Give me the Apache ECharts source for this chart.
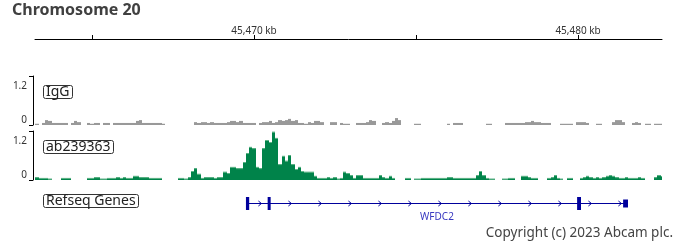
<!DOCTYPE html>
<html>
<head>
<meta charset="utf-8">
<script src="https://cdn.jsdelivr.net/npm/echarts@6/dist/echarts.min.js"></script>
<style>
html,body{margin:0;padding:0;background:#fff;}
#chart{width:696px;height:246px;}
</style>
</head>
<body>
<div id="chart"></div>
<script>
// ---- data ----
const chromosomeTitle = 'Chromosome 20';
const viewStartKb = 45463.24;
const viewEndKb = 45482.59;
const rulerTicks = [45465, 45470, 45475, 45480];
const rulerLabels = [45470, 45480];
const trackNames = ['IgG', 'ab239363', 'Refseq Genes'];
const binStart = 45463.25;
const binSize = 0.1;
const yTicks = [0, 1.2];

const igg = [
  0.03,null,0.05,0.12,0.1,0.05,0.05,0.05,0.05,0.05,
  null,0.05,0.1,0.07,null,null,0.05,0.03,0.05,0.05,
  null,0.05,0.05,null,0.05,0.05,0.05,0.05,0.05,0.05,
  0.05,0.1,0.12,0.05,0.05,0.05,0.05,0.05,0.05,0.03,
  null,null,null,null,null,null,null,null,null,0.07,
  0.05,0.07,0.07,0.05,0.07,0.05,0.05,0.05,0.05,0.07,
  0.1,0.1,0.07,0.1,0.05,0.05,0.05,0.05,null,0.05,
  0.07,0.07,0.1,0.05,0.07,0.12,0.1,0.12,0.15,0.1,
  0.12,0.05,0.05,0.03,0.07,0.05,0.1,0.1,0.07,null,
  null,0.07,0.07,null,0.05,0.03,0.03,null,null,0.05,
  0.05,0.05,0.07,0.12,0.1,null,null,0.05,0.07,0.05,
  0.1,0.17,0.12,null,null,null,null,0.03,0.03,null,
  null,null,null,null,null,null,null,0.03,null,0.05,
  0.05,0.05,null,null,null,null,null,null,null,0.03,
  0.03,null,null,null,null,0.05,0.05,0.05,0.05,0.05,
  0.05,0.07,0.07,0.1,0.07,0.07,0.05,0.05,0.05,null,
  null,null,0.03,0.03,0.03,0.03,null,0.07,0.07,0.07,
  0.05,null,null,0.03,0.03,null,null,null,0.07,0.12,
  0.12,0.07,null,null,0.05,0.07,0.05,null,0.03,0.03,
  null,0.03,0.03,0.03
];

const ab239363 = [
  0.07,0.05,0.05,0.05,0.03,null,null,null,0.05,0.05,
  0.05,null,null,null,null,null,0.05,0.05,0.07,0.07,
  0.03,0.03,0.05,0.05,0.05,0.07,0.05,0.07,0.05,0.05,
  0.1,0.1,0.07,0.07,0.07,0.05,0.05,0.05,0.05,null,
  null,null,null,null,0.05,0.05,0.03,0.07,0.22,0.29,
  0.15,0.05,0.07,0.07,0.07,0.05,0.07,0.07,0.2,0.17,
  0.32,0.32,0.29,0.29,0.44,0.66,0.81,0.78,0.32,0.29,
  0.78,0.98,0.93,1.18,1.03,0.39,0.59,0.47,0.61,0.39,
  0.27,0.32,0.22,0.2,0.2,0.2,0.1,0.05,0.05,0.05,
  0.07,0.05,0.07,0.03,0.05,0.2,0.17,0.12,0.05,0.12,
  0.12,0.05,0.05,0.05,0.05,0.05,0.12,0.07,0.05,0.1,
  0.05,null,null,null,0.05,0.05,null,0.03,0.03,0.05,
  0.05,0.05,0.05,0.05,0.05,0.05,0.05,0.07,0.07,0.05,
  0.05,0.05,0.05,0.05,0.05,0.05,0.12,0.22,0.12,0.05,
  0.03,0.03,null,null,0.03,0.03,0.05,0.05,null,null,
  0.1,0.1,0.07,0.05,0.05,null,null,null,0.05,0.07,
  0.12,0.05,0.03,null,0.05,0.05,null,null,0.05,0.07,
  0.1,0.07,0.05,0.07,0.05,0.07,0.1,0.12,0.1,0.07,
  0.05,0.05,0.07,0.05,0.05,0.05,0.07,0.05,null,null,
  null,0.07,0.12,0.1
];

const geneName = 'WFDC2';
const geneStartKb = 45469.78;
const geneEndKb = 45481.51;
// [startKb, endKb, isTall]
const geneExons = [
  [45469.75, 45469.85, 1],
  [45470.42, 45470.51, 1],
  [45479.97, 45480.09, 1],
  [45481.39, 45481.54, 0]
];
const copyrightText = 'Copyright (c) 2023 Abcam plc.';

// ---- chart ----
const FONT = 'Noto Sans';
const chart = echarts.init(document.getElementById('chart'));

function toData(arr) {
  const out = [];
  arr.forEach((v, i) => { if (v !== null) out.push([i, v]); });
  return out;
}

function binRenderer(fill, topColor) {
  return function (params, api) {
    const i = api.value(0), v = api.value(1);
    const p0 = api.coord([binStart + i * binSize, v]);
    const p1 = api.coord([binStart + (i + 1) * binSize, 0]);
    const x0 = Math.round(p0[0]), x1 = Math.round(p1[0]);
    const yb = Math.round(p1[1]);
    let yt = p0[1];
    if (yb - yt < 1) yt = yb - 1;
    const children = [{
      type: 'rect',
      shape: { x: x0, y: yt, width: x1 - x0, height: yb - yt },
      style: { fill: fill }
    }];
    if (topColor) {
      children.push({
        type: 'rect',
        shape: { x: x0, y: yt, width: x1 - x0, height: 1 },
        style: { fill: topColor }
      });
    }
    return { type: 'group', children: children };
  };
}

function geneRenderer(params, api) {
  const color = '#00009c';
  const a = api.coord([geneStartKb, 0.5]);
  const b = api.coord([geneEndKb, 0.5]);
  const y = Math.round(a[1]) + 0.5;
  const children = [{
    type: 'line',
    shape: { x1: a[0], y1: y, x2: b[0], y2: y },
    style: { stroke: color, lineWidth: 1 }
  }];
  for (let x = a[0] + 13; x < b[0] - 3; x += 30) {
    children.push({
      type: 'polyline',
      shape: { points: [[x - 1.5, y - 2.5], [x + 1.5, y], [x - 1.5, y + 2.5]] },
      style: { stroke: color, lineWidth: 1, fill: null }
    });
  }
  geneExons.forEach(e => {
    const s = api.coord([e[0], 0.5]);
    const t = api.coord([e[1], 0.5]);
    const h = e[2] ? 13 : 8;
    children.push({
      type: 'rect',
      shape: { x: s[0], y: y - h / 2, width: Math.max(3, t[0] - s[0]), height: h },
      style: { fill: color }
    });
  });
  children.push({
    type: 'text',
    style: {
      x: (a[0] + b[0]) / 2, y: y + 14, text: geneName,
      fill: '#3838c0', font: '10px "' + FONT + '"',
      align: 'center', verticalAlign: 'middle'
    }
  });
  return { type: 'group', children: children };
}

const hiddenX = (gi) => ({
  type: 'value', gridIndex: gi, min: viewStartKb, max: viewEndKb, show: false
});
const trackY = (gi) => ({
  type: 'value', gridIndex: gi, min: 0, max: 1.2, offset: 2,
  axisLine: { show: true, lineStyle: { color: '#000', width: 1 } },
  axisTick: { show: true, length: 4, customValues: yTicks, lineStyle: { color: '#000' } },
  axisLabel: {
    show: true, customValues: [0.13, 0.95], margin: 6,
    formatter: v => (v < 0.5 ? '0' : '1.2'),
    color: '#333', fontSize: 10, fontFamily: FONT
  },
  splitLine: { show: false }
});

const boxStyle = {
  borderColor: '#333', borderWidth: 1, borderRadius: 2,
  backgroundColor: '#fff', padding: [0, 3]
};
const boxText = { fontSize: 14, fontWeight: 'normal', color: '#222', fontFamily: FONT, lineHeight: 14 };

const option = {
  animation: false,
  backgroundColor: '#fff',
  title: [
    { text: chromosomeTitle, left: 12, top: 2, padding: 0,
      textStyle: { fontSize: 16, fontWeight: 'bold', color: '#404040', fontFamily: FONT } },
    Object.assign({ text: trackNames[0], left: 43, top: 85, textStyle: boxText }, boxStyle),
    Object.assign({ text: trackNames[1], left: 43, top: 140, textStyle: boxText }, boxStyle),
    Object.assign({ text: trackNames[2], left: 43, top: 194, textStyle: boxText }, boxStyle),
    { text: copyrightText, right: 23, top: 226, padding: 0,
      textStyle: { fontSize: 13.5, fontWeight: 'normal', color: '#444', fontFamily: FONT } }
  ],
  grid: [
    { left: 35, right: 34, top: 39, height: 1 },
    { left: 35, right: 34, top: 76, height: 49 },
    { left: 35, right: 34, top: 131, height: 49 },
    { left: 35, right: 34, top: 190, height: 26 }
  ],
  xAxis: [
    {
      type: 'value', gridIndex: 0, position: 'top', min: viewStartKb, max: viewEndKb,
      axisLine: { show: true, onZero: false, lineStyle: { color: '#000', width: 1 } },
      axisTick: { show: true, length: 4, customValues: rulerTicks, lineStyle: { color: '#000' } },
      axisLabel: {
        show: true, customValues: rulerLabels, margin: 3,
        formatter: v => v.toLocaleString('en-US') + ' kb',
        color: '#333', fontSize: 10, fontFamily: FONT
      },
      splitLine: { show: false }
    },
    hiddenX(1), hiddenX(2), hiddenX(3)
  ],
  yAxis: [
    { type: 'value', gridIndex: 0, show: false },
    trackY(1), trackY(2),
    { type: 'value', gridIndex: 3, min: 0, max: 1, show: false }
  ],
  series: [
    { type: 'custom', xAxisIndex: 1, yAxisIndex: 1, clip: true,
      renderItem: binRenderer('#999999', null), data: toData(igg) },
    { type: 'custom', xAxisIndex: 2, yAxisIndex: 2, clip: true,
      renderItem: binRenderer('#00834a', '#5fb487'), data: toData(ab239363) },
    { type: 'custom', xAxisIndex: 3, yAxisIndex: 3, clip: false,
      renderItem: geneRenderer, data: [[0]] }
  ]
};
chart.setOption(option);
</script>
</body>
</html>
